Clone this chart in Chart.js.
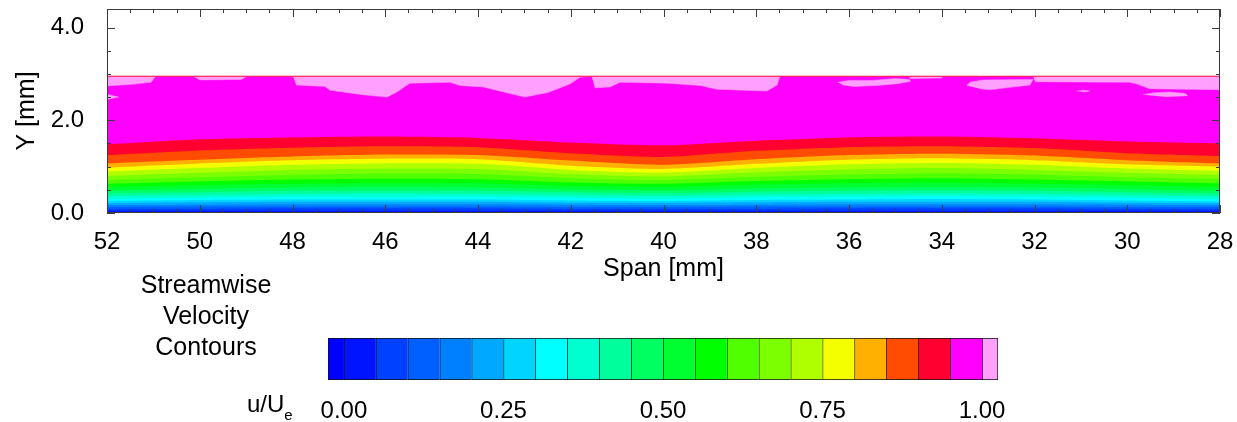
<!DOCTYPE html>
<html><head><meta charset="utf-8">
<script src="https://cdn.jsdelivr.net/npm/chart.js@4.4.0/dist/chart.umd.min.js"></script>
<style>
html,body{margin:0;padding:0;background:#fff;overflow:hidden;}
#wrap{position:relative;width:1237px;height:422px;font-family:'Liberation Sans',Arial,sans-serif;color:#000;}
canvas{position:absolute;left:0;}
#c1{top:0}
#c2{top:330px}
.lbl{position:absolute;font-size:25px;white-space:nowrap;}
</style></head><body>
<div id="wrap">
<canvas id="c1" width="1237" height="422"></canvas>
<canvas id="c2" width="1237" height="92"></canvas>
<div class="lbl" style="left:106px;top:269px;width:200px;text-align:center;line-height:31px;">Streamwise<br>Velocity<br>Contours</div>
<div class="lbl" style="left:247px;top:390px;line-height:28px;font-size:24px;">u/U<span style="font-size:15px;position:relative;top:8px;">e</span></div>
</div>
<script>
// ---- data: span stations [mm] and heights Y [mm] of each u/Ue contour level ----
const span = [52, 50, 48, 46, 44, 42, 40, 38, 36, 34, 32, 30, 28];
const u05 = [0.05,0.05,0.05,0.05,0.05,0.05,0.05,0.05,0.05,0.05,0.05,0.05,0.05];
const u10 = [0.09,0.09,0.10,0.10,0.10,0.09,0.09,0.09,0.10,0.10,0.10,0.09,0.09];
const u15 = [0.13,0.14,0.14,0.14,0.14,0.13,0.13,0.14,0.14,0.14,0.14,0.13,0.13];
const u20 = [0.17,0.18,0.19,0.19,0.19,0.18,0.17,0.18,0.19,0.19,0.19,0.18,0.17];
const u25 = [0.21,0.23,0.24,0.24,0.24,0.22,0.22,0.23,0.24,0.24,0.24,0.22,0.21];
const u30 = [0.26,0.28,0.29,0.29,0.29,0.27,0.26,0.28,0.29,0.30,0.29,0.27,0.25];
const u35 = [0.31,0.33,0.35,0.35,0.35,0.33,0.31,0.34,0.35,0.36,0.35,0.33,0.30];
const u40 = [0.37,0.39,0.41,0.42,0.41,0.39,0.37,0.40,0.41,0.42,0.41,0.39,0.36];
const u45 = [0.43,0.45,0.48,0.48,0.48,0.45,0.43,0.46,0.48,0.49,0.48,0.45,0.42];
const u50 = [0.49,0.52,0.55,0.56,0.55,0.51,0.49,0.53,0.55,0.56,0.55,0.52,0.48];
const u55 = [0.56,0.60,0.63,0.64,0.64,0.58,0.56,0.61,0.64,0.65,0.63,0.60,0.56];
const u60 = [0.63,0.68,0.72,0.74,0.73,0.66,0.63,0.69,0.73,0.75,0.72,0.68,0.64];
const u65 = [0.71,0.77,0.82,0.85,0.84,0.75,0.71,0.78,0.83,0.86,0.83,0.77,0.73];
const u70 = [0.80,0.87,0.93,0.96,0.95,0.84,0.79,0.88,0.94,0.97,0.93,0.87,0.82];
const u75 = [0.89,0.97,1.04,1.07,1.06,0.93,0.87,0.97,1.05,1.08,1.04,0.96,0.91];
const u80 = [0.98,1.07,1.14,1.17,1.16,1.02,0.95,1.06,1.15,1.18,1.14,1.05,1.00];
const u85 = [1.07,1.15,1.22,1.26,1.25,1.13,1.04,1.16,1.25,1.28,1.24,1.14,1.07];
const u90 = [1.25,1.35,1.41,1.44,1.42,1.29,1.21,1.34,1.42,1.44,1.40,1.29,1.23];
const u95 = [1.48,1.59,1.63,1.65,1.62,1.52,1.46,1.56,1.63,1.65,1.61,1.54,1.50];
// upper edge of the measured region
const topSpan = [52, 28];
const topY = [2.95, 2.95];
// regions with u/Ue > 1.0 (closed outlines)
const pinkA_s = [52, 50.95, 51.05, 51.4, 52];
const pinkA_y = [2.95, 2.95, 2.82, 2.78, 2.74];
const pinkB_s = [52, 51.75, 52];
const pinkB_y = [2.56, 2.50, 2.45];
const pinkC_s = [50.15, 48.98, 49.1, 50.0];
const pinkC_y = [2.95, 2.95, 2.88, 2.87];
const pinkD_s = [47.99, 41.58, 41.80, 42.02, 42.49, 42.99, 43.20, 43.89, 44.39, 44.60, 45.47, 45.73, 45.96, 46.48, 47.19, 47.30, 47.92];
const pinkD_y = [2.95, 2.95, 2.93, 2.78, 2.60, 2.50, 2.55, 2.72, 2.75, 2.82, 2.80, 2.62, 2.50, 2.55, 2.65, 2.73, 2.76];
const pinkE_s = [41.55, 37.49, 37.55, 37.77, 38.85, 39.21, 39.92, 40.94, 41.15, 41.48];
const pinkE_y = [2.95, 2.95, 2.76, 2.63, 2.67, 2.75, 2.80, 2.82, 2.72, 2.70];
const pinkF_s = [36.24, 36.0, 35.5, 35.0, 34.70, 34.67, 34.95, 35.4, 35.9, 36.13];
const pinkF_y = [2.82, 2.86, 2.86, 2.90, 2.88, 2.84, 2.79, 2.75, 2.73, 2.76];
const pinkG_s = [34.69, 34.0, 34.0, 34.69];
const pinkG_y = [2.95, 2.95, 2.91, 2.90];
const pinkH_s = [33.46, 33.39, 33.11, 32.03, 32.10, 32.53, 32.96, 33.18];
const pinkH_y = [2.75, 2.82, 2.87, 2.88, 2.76, 2.71, 2.66, 2.68];
const pinkI_s = [32.03, 28.0, 28.0, 29.51, 29.79, 29.94, 31.99];
const pinkI_y = [2.95, 2.95, 2.66, 2.68, 2.78, 2.82, 2.83];
const pinkJ_s = [31.08, 30.95, 30.80, 30.95];
const pinkJ_y = [2.63, 2.65, 2.63, 2.61];
const pinkK_s = [29.66, 29.45, 29.1, 28.75, 28.7, 29.2];
const pinkK_y = [2.55, 2.59, 2.61, 2.58, 2.53, 2.51];
// axis ticks
const xTickVals = [52, 50, 48, 46, 44, 42, 40, 38, 36, 34, 32, 30, 28];
const yTickVals = [0, 2, 4];
// colour bar (u/Ue)
const cbEdges = [-0.025, 0, 0.05, 0.10, 0.15, 0.20, 0.25, 0.30, 0.35, 0.40, 0.45, 0.50, 0.55, 0.60, 0.65, 0.70, 0.75, 0.80, 0.85, 0.90, 0.95, 1.00, 1.025];
const cbTicks = [0, 0.25, 0.5, 0.75, 1.0];

// ---- styles ----
const bandColors = ['#0000ff','#0014ff','#0040ff','#0060ff','#0080ff','#00a8ff','#00d4ff','#00ffff','#00ffd0','#00ff9c','#00ff60','#00ff30','#00ff00','#50ff00','#7cff00','#b0ff00','#f4ff00','#ffb000','#ff4c00','#ff0030','#ff00ff','#ffa0ff'];
const FONT = "'Liberation Sans', Arial, sans-serif";
Chart.defaults.font.family = FONT;
Chart.defaults.color = '#000';

const levelSeries = [u05,u10,u15,u20,u25,u30,u35,u40,u45,u50,u55,u60,u65,u70,u75,u80,u85,u90,u95];
const pinkPatches = [[pinkA_s,pinkA_y],[pinkB_s,pinkB_y],[pinkC_s,pinkC_y],[pinkD_s,pinkD_y],[pinkE_s,pinkE_y],[pinkF_s,pinkF_y],[pinkG_s,pinkG_y],[pinkH_s,pinkH_y],[pinkI_s,pinkI_y],[pinkJ_s,pinkJ_y],[pinkK_s,pinkK_y]];

const datasets = [];
levelSeries.forEach((arr, i) => {
  datasets.push({
    data: span.map((s, j) => ({x: s, y: arr[j]})),
    fill: 'origin', backgroundColor: bandColors[i + 1],
    borderColor: 'transparent', borderWidth: 0, pointRadius: 0,
    tension: 0.25, order: i + 1
  });
});
datasets.push({
  data: topSpan.map((s, j) => ({x: s, y: topY[j]})),
  fill: 'origin', backgroundColor: bandColors[20],
  borderColor: 'transparent', borderWidth: 0, pointRadius: 0, order: 20
});
pinkPatches.forEach(([ps, py]) => {
  datasets.push({
    data: ps.map((s, j) => ({x: s, y: py[j]})),
    fill: 'shape', backgroundColor: bandColors[21],
    borderColor: bandColors[21], borderWidth: 0.5, pointRadius: 0, tension: 0, order: 0
  });
});
datasets.push({
  data: topSpan.map((s, j) => ({x: s, y: topY[j]})),
  fill: false, borderColor: '#ff1a3c', borderWidth: 1.2, pointRadius: 0, order: -1
});

const frameTicks = {
  id: 'frameTicks',
  afterDatasetsDraw(chart) {
    const {ctx, chartArea: a, scales: {x, y}} = chart;
    ctx.save();
    ctx.strokeStyle = '#3c3c3c';
    ctx.lineWidth = 1;
    ctx.beginPath();
    for (let v = 28; v <= 52.001; v += 0.5) {
      const px = Math.round(x.getPixelForValue(v)) + 0.5;
      const L = (Math.abs(v % 2) < 1e-6) ? 8 : 4;
      ctx.moveTo(px, a.bottom); ctx.lineTo(px, a.bottom - L);
      ctx.moveTo(px, a.top); ctx.lineTo(px, a.top + L);
    }
    for (let v = 0; v <= 4.001; v += 0.5) {
      const py = Math.round(y.getPixelForValue(v)) + 0.5;
      const L = (Math.abs(v % 2) < 1e-6) ? 8 : 4;
      ctx.moveTo(a.left, py); ctx.lineTo(a.left + L, py);
      ctx.moveTo(a.right, py); ctx.lineTo(a.right - L, py);
    }
    ctx.stroke();
    ctx.strokeRect(Math.round(a.left) + 0.5, Math.round(a.top) + 0.5, Math.round(a.right - a.left) - 1, Math.round(a.bottom - a.top) - 1);
    ctx.restore();
  }
};

new Chart(document.getElementById('c1'), {
  type: 'line',
  data: {datasets},
  plugins: [frameTicks],
  options: {
    responsive: false, animation: false, events: [],
    layout: {padding: {left: 0, right: 17, top: 9, bottom: 0}},
    plugins: {legend: {display: false}, tooltip: {enabled: false}},
    scales: {
      x: {
        type: 'linear', reverse: true, min: 28, max: 52,
        grid: {display: false}, border: {display: false},
        afterBuildTicks: s => { s.ticks = xTickVals.map(v => ({value: v})); },
        ticks: {font: {size: 24}, padding: 7, maxRotation: 0, autoSkip: false, callback: v => String(v)},
        title: {display: true, text: 'Span [mm]', font: {size: 25}, padding: {top: 0, bottom: 138}},
        afterFit: s => { s.height = 209; s.paddingLeft = 0; s.paddingRight = 0; }
      },
      y: {
        type: 'linear', min: 0, max: 4.4,
        grid: {display: false}, border: {display: false},
        afterBuildTicks: s => { s.ticks = yTickVals.map(v => ({value: v})); },
        ticks: {font: {size: 24}, padding: 15, callback: v => Number(v).toFixed(1)},
        title: {display: true, text: 'Y [mm]', font: {size: 25}, padding: {top: 12, bottom: 0}},
        afterFit: s => { s.width = 107; s.paddingTop = 0; s.paddingBottom = 0; }
      }
    }
  }
});

// ---- colour bar ----
const cbDatasets = bandColors.map((c, i) => ({
  data: [[cbEdges[i], cbEdges[i + 1]]],
  backgroundColor: c, borderColor: '#111',
  borderWidth: {top: 1, bottom: 1, left: 1, right: i === bandColors.length - 1 ? 1 : 0},
  borderSkipped: false, grouped: false, barPercentage: 1, categoryPercentage: 1
}));
new Chart(document.getElementById('c2'), {
  type: 'bar',
  data: {labels: [''], datasets: cbDatasets},
  options: {
    indexAxis: 'y', responsive: false, animation: false, events: [],
    layout: {padding: {left: 328, right: 239, top: 8, bottom: 0}},
    plugins: {legend: {display: false}, tooltip: {enabled: false}},
    scales: {
      x: {
        type: 'linear', min: -0.025, max: 1.025,
        grid: {display: false}, border: {display: false},
        afterBuildTicks: s => { s.ticks = cbTicks.map(v => ({value: v})); },
        ticks: {font: {size: 24}, padding: 9, maxRotation: 0, autoSkip: false, callback: v => Number(v).toFixed(2)},
        afterFit: s => { s.height = 42; s.paddingLeft = 0; s.paddingRight = 0; }
      },
      y: {display: false}
    }
  }
});
</script>
</body></html>
